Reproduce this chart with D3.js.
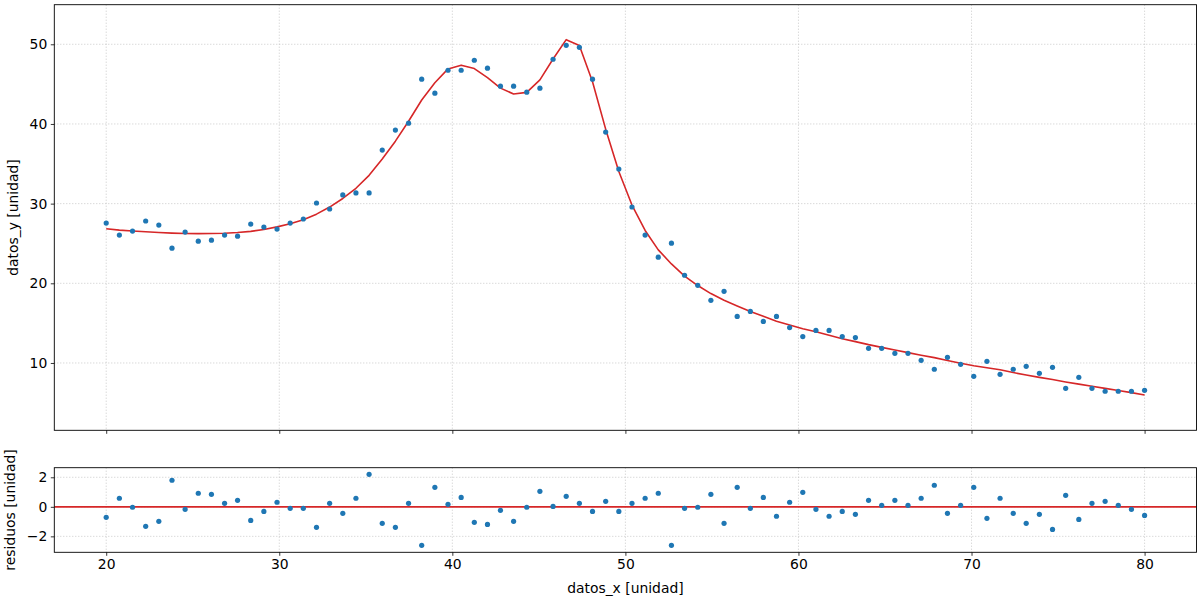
<!DOCTYPE html>
<html>
<head>
<meta charset="utf-8">
<script src="https://cdn.jsdelivr.net/npm/d3@7"></script>
<style>
  html, body { margin: 0; padding: 0; background: #ffffff; }
  svg { display: block; }
  text { font-family: "DejaVu Sans", sans-serif; fill: #000; }
</style>
</head>
<body>
<svg id="chart" width="1200" height="600"></svg>
<script>
const datos_x = [
  20.00, 20.76, 21.52, 22.28, 23.04, 23.80, 24.56, 25.32, 26.08, 26.84,
  27.59, 28.35, 29.11, 29.87, 30.63, 31.39, 32.15, 32.91, 33.67, 34.43,
  35.19, 35.95, 36.71, 37.47, 38.23, 38.99, 39.75, 40.51, 41.27, 42.03,
  42.78, 43.54, 44.30, 45.06, 45.82, 46.58, 47.34, 48.10, 48.86, 49.62,
  50.38, 51.14, 51.90, 52.66, 53.42, 54.18, 54.94, 55.70, 56.46, 57.22,
  57.97, 58.73, 59.49, 60.25, 61.01, 61.77, 62.53, 63.29, 64.05, 64.81,
  65.57, 66.33, 67.09, 67.85, 68.61, 69.37, 70.13, 70.89, 71.65, 72.41,
  73.16, 73.92, 74.68, 75.44, 76.20, 76.96, 77.72, 78.48, 79.24, 80.00
];
const datos_y = [
  27.56, 26.05, 26.55, 27.82, 27.31, 24.41, 26.43, 25.29, 25.42, 26.05,
  25.92, 27.44, 27.06, 26.81, 27.56, 28.07, 30.08, 29.33, 31.09, 31.34,
  31.34, 36.72, 39.23, 40.10, 45.62, 43.86, 46.74, 46.74, 48.00, 47.00,
  44.74, 44.74, 43.99, 44.49, 48.12, 49.87, 49.62, 45.62, 38.98, 34.34,
  29.58, 26.05, 23.28, 25.04, 21.01, 19.75, 17.86, 18.99, 15.84, 16.47,
  15.21, 15.84, 14.45, 13.32, 14.08, 14.08, 13.32, 13.19, 11.84, 11.84,
  11.21, 11.21, 10.33, 9.21, 10.71, 9.83, 8.33, 10.21, 8.58, 9.21,
  9.58, 8.70, 9.46, 6.82, 8.20, 6.82, 6.45, 6.45, 6.45, 6.57
];
const ajuste = [
  26.85, 26.68, 26.56, 26.47, 26.38, 26.30, 26.25, 26.23, 26.25, 26.29,
  26.37, 26.52, 26.75, 27.08, 27.48, 27.98, 28.68, 29.57, 30.65, 31.93,
  33.55, 35.60, 37.84, 40.34, 43.01, 45.18, 46.91, 47.38, 46.95, 45.81,
  44.50, 43.76, 43.96, 45.54, 48.15, 50.58, 49.86, 45.31, 39.35, 34.03,
  29.82, 26.63, 24.20, 22.43, 20.91, 19.72, 18.71, 17.87, 17.16, 16.45,
  15.85, 15.25, 14.76, 14.30, 13.91, 13.48, 13.05, 12.68, 12.30, 11.96,
  11.63, 11.30, 10.97, 10.67, 10.30, 9.96, 9.66, 9.40, 9.14, 8.80,
  8.48, 8.19, 7.92, 7.62, 7.35, 7.07, 6.81, 6.55, 6.28, 5.99
];
const residuos = [
  -0.71, 0.58, -0.03, -1.32, -0.98, 1.80, -0.17, 0.92, 0.85, 0.24,
  0.44, -0.92, -0.31, 0.31, -0.10, -0.10, -1.39, 0.24, -0.44, 0.58,
  2.20, -1.12, -1.39, 0.24, -2.61, 1.32, 0.17, 0.64, -1.05, -1.19,
  -0.24, -0.98, -0.03, 1.05, 0.03, 0.71, 0.24, -0.31, 0.37, -0.31,
  0.24, 0.58, 0.92, -2.61, -0.10, -0.03, 0.85, -1.12, 1.32, -0.10,
  0.64, -0.64, 0.31, 0.98, -0.17, -0.64, -0.31, -0.51, 0.44, 0.10,
  0.44, 0.10, 0.58, 1.46, -0.44, 0.10, 1.32, -0.78, 0.58, -0.44,
  -1.12, -0.51, -1.53, 0.78, -0.85, 0.24, 0.37, 0.10, -0.17, -0.58
];
const xTicks = [20, 30, 40, 50, 60, 70, 80];
const yTicksTop = [10, 20, 30, 40, 50];
const yTicksRes = [-2, 0, 2];
const xLabel = "datos_x [unidad]";
const yLabelTop = "datos_y [unidad]";
const yLabelRes = "residuos [unidad]";

(function () {
  const svg = d3.select("#chart");
  svg.append("rect").attr("width", 1200).attr("height", 600).attr("fill", "#fff");

  const L = 54.3, R = 1196.5;
  const x = d3.scaleLinear().domain([17, 83]).range([L, R]);

  const topBox = { t: 4.7, b: 430.3 };
  const resBox = { t: 467.7, b: 552.3 };
  const yTop = d3.scaleLinear().domain([1.55, 54.97]).range([topBox.b, topBox.t]);
  const yRes = d3.scaleLinear().domain([-3.08, 2.65]).range([resBox.b, resBox.t]);

  const blue = "#1f77b4", red = "#d62728";
  const gridColor = "#bdbdbd";
  const fmt = d => d < 0 ? "\u2212" + Math.abs(d) : String(d);

  function panel(box, y, yTicks, showXLabels, clipId) {
    const g = svg.append("g");
    svg.append("clipPath").attr("id", clipId)
      .append("rect").attr("x", L).attr("y", box.t).attr("width", R - L).attr("height", box.b - box.t);

    const grid = g.append("g").attr("clip-path", `url(#${clipId})`);
    grid.selectAll("line.gx").data(xTicks).join("line").attr("class", "gx")
      .attr("x1", d => x(d)).attr("x2", d => x(d))
      .attr("y1", box.t).attr("y2", box.b)
      .attr("stroke", gridColor).attr("stroke-width", 0.8).attr("stroke-dasharray", "1,2");
    grid.selectAll("line.gy").data(yTicks).join("line").attr("class", "gy")
      .attr("x1", L).attr("x2", R)
      .attr("y1", d => y(d)).attr("y2", d => y(d))
      .attr("stroke", gridColor).attr("stroke-width", 0.8).attr("stroke-dasharray", "1,2");

    const xAxis = d3.axisBottom(x).tickValues(xTicks).tickSize(3.5).tickPadding(3.5)
      .tickFormat(showXLabels ? fmt : () => "");
    const ax = g.append("g").attr("transform", `translate(0,${box.b})`).call(xAxis);
    const yAxis = d3.axisLeft(y).tickValues(yTicks).tickSize(3.5).tickPadding(3.5).tickFormat(fmt);
    const ay = g.append("g").attr("transform", `translate(${L},0)`).call(yAxis);
    [ax, ay].forEach(a => {
      a.select(".domain").remove();
      a.selectAll(".tick line").attr("stroke", "#000").attr("stroke-width", 0.8);
      a.selectAll(".tick text").attr("font-size", "13.9px").attr("font-family", "DejaVu Sans").attr("fill", "#000");
    });
  }

  panel(topBox, yTop, yTicksTop, false, "clipTop");
  panel(resBox, yRes, yTicksRes, true, "clipRes");

  const plot1 = svg.append("g").attr("clip-path", "url(#clipTop)");
  const lineFit = d3.line().x((d, i) => x(datos_x[i])).y(d => yTop(d));
  plot1.append("path").datum(ajuste).attr("d", lineFit)
    .attr("fill", "none").attr("stroke", red).attr("stroke-width", 1.6).attr("stroke-linejoin", "round");
  plot1.selectAll("circle").data(datos_y).join("circle")
    .attr("cx", (d, i) => x(datos_x[i])).attr("cy", d => yTop(d)).attr("r", 2.6).attr("fill", blue);

  const plot2 = svg.append("g").attr("clip-path", "url(#clipRes)");
  plot2.append("line").attr("x1", L).attr("x2", R).attr("y1", yRes(0)).attr("y2", yRes(0))
    .attr("stroke", red).attr("stroke-width", 1.6);
  plot2.selectAll("circle").data(residuos).join("circle")
    .attr("cx", (d, i) => x(datos_x[i])).attr("cy", d => yRes(d)).attr("r", 2.6).attr("fill", blue);

  [topBox, resBox].forEach(b => {
    svg.append("rect").attr("x", L).attr("y", b.t).attr("width", R - L).attr("height", b.b - b.t)
      .attr("fill", "none").attr("stroke", "#000").attr("stroke-width", 0.9);
  });

  svg.append("text").attr("x", (L + R) / 2).attr("y", 592.5).attr("text-anchor", "middle")
    .attr("font-size", "13.9px").text(xLabel);
  svg.append("text").attr("transform", `translate(18,${(topBox.t + topBox.b) / 2}) rotate(-90)`)
    .attr("text-anchor", "middle").attr("font-size", "13.9px").text(yLabelTop);
  svg.append("text").attr("transform", `translate(15,${(resBox.t + resBox.b) / 2}) rotate(-90)`)
    .attr("text-anchor", "middle").attr("font-size", "13.9px").text(yLabelRes);
})();
</script>
</body>
</html>
